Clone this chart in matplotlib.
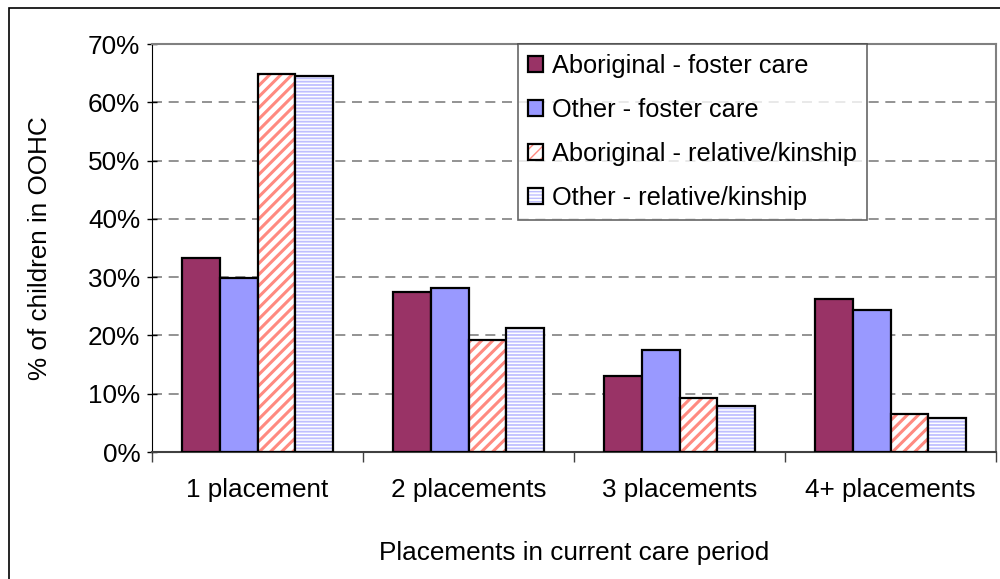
import numpy as np
import matplotlib
matplotlib.use("Agg")
from matplotlib import pyplot as plt
from matplotlib.colors import to_rgba
from matplotlib.patches import Rectangle
from matplotlib.ticker import FixedLocator, PercentFormatter

plt.rcParams["font.family"] = ["Liberation Sans", "DejaVu Sans"]

categories = ["1 placement", "2 placements", "3 placements", "4+ placements"]
series_names = [
    "Aboriginal - foster care",
    "Other - foster care",
    "Aboriginal - relative/kinship",
    "Other - relative/kinship",
]
aboriginal_foster = [33.3, 27.5, 13.0, 26.2]
other_foster = [29.9, 28.2, 17.5, 24.4]
aboriginal_kin = [64.8, 19.3, 9.3, 6.5]
other_kin = [64.5, 21.3, 7.9, 5.9]
y_ticks = [0, 10, 20, 30, 40, 50, 60, 70]

# (face, hatch, hatch colour, hatch width)
styles = [
    ("#993366", None, None, None),
    ("#9999FF", None, None, None),
    ("white", "///", "#FF8A80", 2.2),
    ("white", "-----", "#BFBFFF", 1.3),
]

FS = 18.8

fig = plt.figure(figsize=(10, 5.79), dpi=100)
ax = fig.add_axes([0.152, 1 - 452 / 579, 0.996 - 0.152, (452 - 44) / 579])

# outer chart frame (cut off at right / bottom)
fig.patches.append(Rectangle((9 / 1000, -0.2), 1.2, 1.2 - 8 / 579,
                             transform=fig.transFigure, fill=False,
                             edgecolor="black", linewidth=1.2, zorder=0))

x = np.arange(len(categories))
width = 0.18
offsets = (np.arange(4) - 1.5) * width
all_values = [aboriginal_foster, other_foster, aboriginal_kin, other_kin]

for vals, off, name, (face, hatch, hcol, hlw) in zip(all_values, offsets, series_names, styles):
    bars = ax.bar(x + off, vals, width, color=face, edgecolor="black",
                  linewidth=1.6, hatch=hatch, label=name, zorder=3)
    if hatch:
        for b in bars:
            b._hatch_color = to_rgba(hcol)
            if hasattr(b, "set_hatch_linewidth"):
                b.set_hatch_linewidth(hlw)

ax.set_xlim(-0.5, len(categories) - 0.5)
ax.set_ylim(0, 70)
ax.yaxis.set_major_locator(FixedLocator(y_ticks))
ax.yaxis.set_major_formatter(PercentFormatter(decimals=0))
ax.set_xticks(x)
ax.set_xticklabels(categories)
ax.xaxis.set_minor_locator(FixedLocator(np.arange(len(categories) + 1) - 0.5))
ax.tick_params(axis="x", which="major", length=0, pad=19, labelsize=FS)
ax.tick_params(axis="x", which="minor", length=7, direction="out", width=1, color="#404040")
ax.tick_params(axis="y", length=7, direction="inout", width=1, labelsize=FS, pad=5)

ax.grid(axis="y", linestyle=(0, (6, 4)), color="#808080", linewidth=1.2, zorder=0)
ax.set_axisbelow(True)

for side in ["top", "right"]:
    ax.spines[side].set_color("#808080")
    ax.spines[side].set_linewidth(1.5)
ax.spines["left"].set_color("black")
ax.spines["bottom"].set_color("#404040")
ax.spines["bottom"].set_linewidth(1.5)

ax.set_xlabel("Placements in current care period", fontsize=FS, labelpad=28)
ax.set_ylabel("% of children in OOHC", fontsize=FS, labelpad=26)

leg = ax.legend(loc="upper left", bbox_to_anchor=(0.518, 1 - 44 / 579),
                bbox_transform=fig.transFigure, fontsize=18.3, frameon=True,
                fancybox=False, borderaxespad=0, handlelength=0.6,
                handleheight=0.6, handletextpad=0.35, labelspacing=0.78,
                borderpad=0.4)
leg.get_frame().set_edgecolor("#404040")
leg.get_frame().set_linewidth(1.2)
leg.set_zorder(5)

fig.savefig("out.png", dpi=100)
